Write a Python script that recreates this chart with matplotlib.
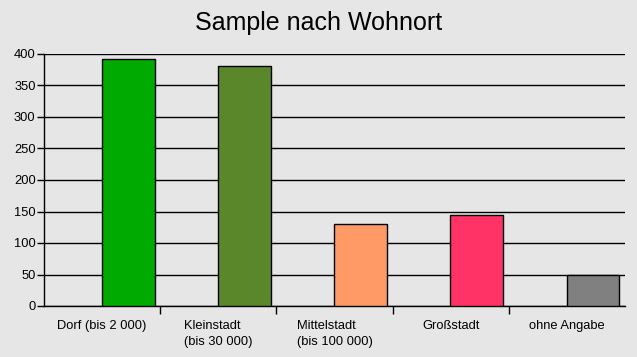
import numpy as np
import matplotlib.pyplot as plt

categories = ["Dorf (bis 2 000)", "Kleinstadt\n(bis 30 000)", "Mittelstadt\n(bis 100 000)",
              "Großstadt", "ohne Angabe"]
counts = [392, 381, 130, 144, 50]
colors = ["#00aa00", "#5b872b", "#ff9966", "#ff3366", "#808080"]

plt.rcParams["font.family"] = ["Liberation Sans", "DejaVu Sans"]

fig = plt.figure(figsize=(6.37, 3.57), dpi=100, facecolor="#e6e6e6")
ax = fig.add_axes([44 / 637, 1 - 306 / 357, (625 - 44) / 637, (306 - 54) / 357])
ax.set_facecolor("#e6e6e6")

x = np.arange(len(categories))
ax.bar(x + 0.225, counts, width=0.455, color=colors, edgecolor="black", linewidth=1, zorder=3)

ax.set_xlim(-0.5, len(categories) - 0.5)
ax.set_ylim(0, 400)
ax.set_yticks(np.arange(0, 401, 50))
ax.yaxis.grid(True, color="black", linewidth=1, zorder=0)
ax.set_axisbelow(True)

# category boundaries as major ticks, labels on minor ticks
ax.set_xticks(x[:-1] + 0.5)
ax.set_xticklabels([])
ax.set_xticks(x, minor=True)
ax.set_xticklabels(categories, minor=True, fontsize=9.3, multialignment="left",
                   va="top", linespacing=1.45)
ax.tick_params(axis="x", which="major", length=6, width=1, color="black", direction="out")
ax.tick_params(axis="x", which="minor", length=0, pad=10)
ax.tick_params(axis="y", length=5, width=1, labelsize=9.3, pad=1)

for side in ["top", "right"]:
    ax.spines[side].set_visible(False)
ax.spines["left"].set_linewidth(1)
ax.spines["bottom"].set_linewidth(1)

fig.suptitle("Sample nach Wohnort", fontsize=18, y=0.935, va="center")

fig.savefig("out.png", dpi=100, facecolor=fig.get_facecolor())
